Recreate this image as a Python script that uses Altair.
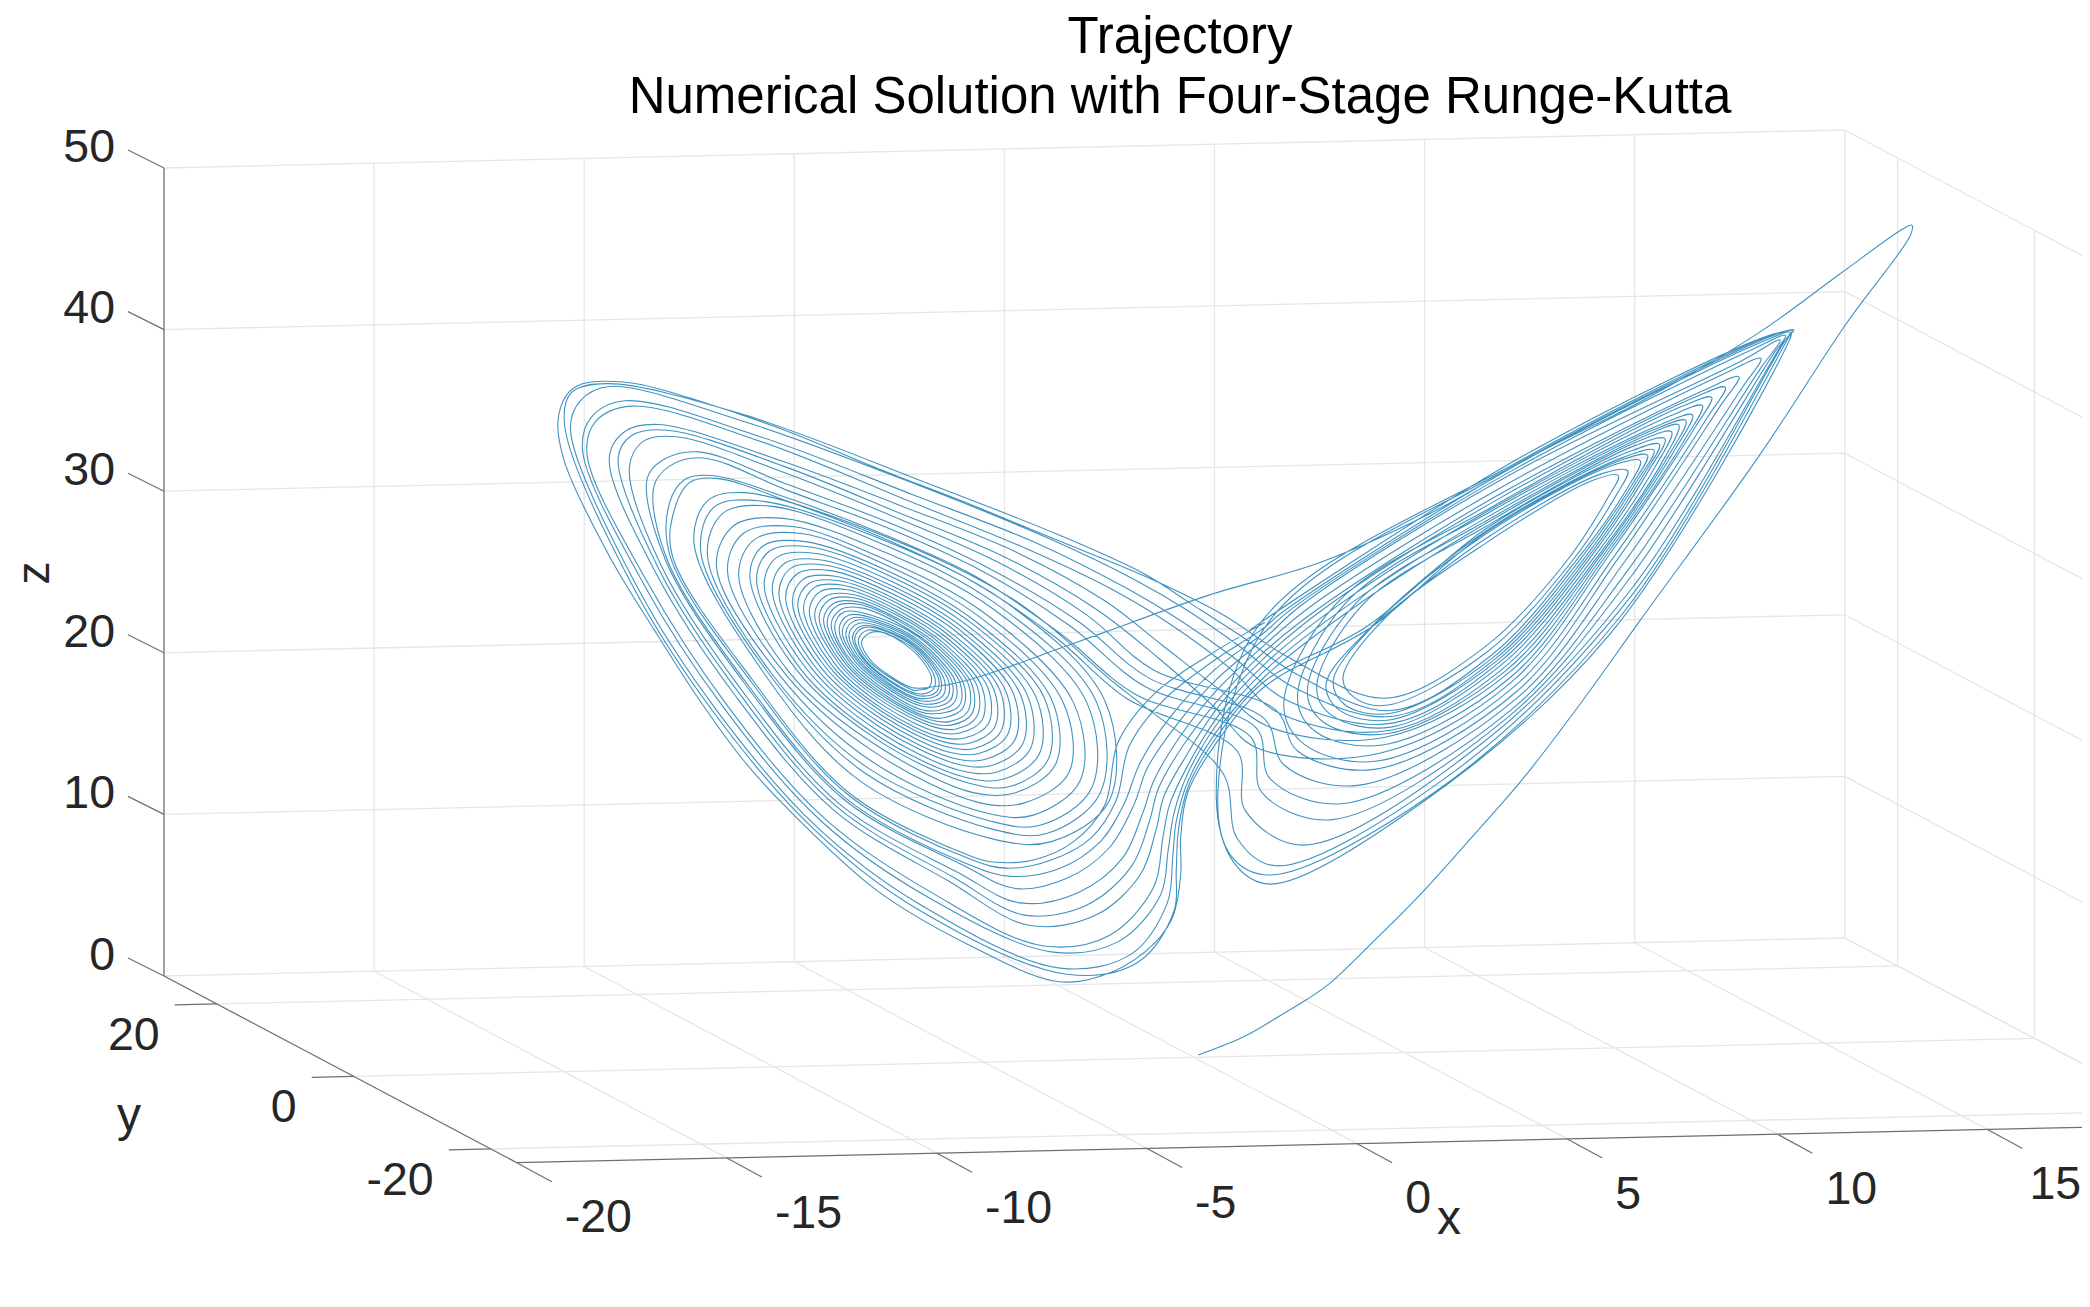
import altair as alt
import pandas as pd

# ---------- text ----------
TITLE_LINES = ["Trajectory", "Numerical Solution with Four-Stage Runge-Kutta"]
X_TICKS = [-20, -15, -10, -5, 0, 5, 10, 15, 20]
Y_TICKS = [-20, 0, 20]
Z_TICKS = [0, 10, 20, 30, 40, 50]
X_LABELLED = [-20, -15, -10, -5, 0, 5, 10, 15]
Y_MIN, Y_MAX = -23.8, 27.7

# ---------- trajectory ----------
TRACE_IN = [(179,1862),(261,1823),(325,1779),(376,1742),(420,1705),(489,1626),(578,1520),(680,1385),(770,1262),(880,1090),(985,915),
            (1200,560),(1360,270),(1478,75),(1480,55),(1465,62),(1350,160),(1200,290),(1000,430),(800,550),(590,690),(400,790),(200,860),(0,945)]
TRACE_IN_LEFT = [(1200,710),(1100,750),(1000,785),(930,800)]

LEFT_RINGS = [
 [(880,803),(830,775),(785,735),(765,690),(785,668),(815,668),(860,695),(900,735),(922,780),(915,803),(895,808)],
 [(884,810),(780,736),(758,685),(778,662),(859,690),(904,732),(930,782),(924,809)],
 [(887,817),(775,737),(750,680),(771,655),(858,684),(907,729),(938,783),(932,814)],
 [(890,822),(772,737),(745,677),(766,651),(858,681),(910,727),(943,784),(938,818)],
 [(893,829),(767,738),(737,672),(759,645),(857,676),(913,725),(951,786),(946,824)],
 [(897,835),(762,739),(730,668),(751,638),(856,670),(917,722),(960,787),(955,829)],
 [(900,842),(757,739),(722,663),(744,632),(855,665),(920,719),(968,789),(963,835)],
 [(904,849),(752,740),(715,658),(737,625),(854,660),(924,716),(976,790),(972,840)],
 [(909,859),(745,741),(705,652),(727,617),(853,653),(929,712),(986,792),(983,848)],
 [(912,866),(822,817),(740,742),(697,647),(720,610),(768,608),(852,648),(932,709),(994,794),(992,853),(953,876)],
 [(917,875),(821,823),(734,743),(688,640),(711,602),(761,599),(851,641),(937,706),(1005,796),(1003,861),(962,886)],
 [(921,882),(820,828),(729,744),(680,636),(703,596),(755,592),(850,636),(941,703),(1013,797),(1012,867),(968,894)],
 [(926,891),(819,834),(722,745),(670,629),(694,587),(749,583),(849,628),(946,699),(1024,799),(1023,874),(977,904)],
 [(930,900),(817,840),(716,746),(660,623),(684,579),(742,574),(847,621),(950,695),(1035,801),(1035,882),(985,914)],
 [(936,912),(816,848),(707,747),(648,615),(672,568),(733,563),(846,613),(956,690),(1048,803),(1049,891),(996,926)],
 [(942,924),(814,856),(699,748),(635,607),(660,557),(724,552),(844,604),(962,686),(1061,806),(1063,900),(1007,939)],
 [(948,935),(813,863),(691,749),(622,599),(648,547),(715,541),(843,595),(968,681),(1075,809),(1077,910),(1018,952)],
 [(954,947),(811,871),(683,751),(610,591),(636,536),(706,530),(841,586),(974,676),(1088,811),(1092,919),(1028,964)],
 [(962,961),(810,880),(673,752),(595,581),(622,523),(696,516),(840,576),(982,670),(1104,814),(1109,930),(1041,979)],
 [(969,975),(808,890),(663,754),(580,572),(607,510),(685,503),(838,565),(989,665),(1120,817),(1126,941),(1054,994)],
 [(976,989),(806,899),(653,755),(565,562),(593,498),(675,490),(836,555),(996,659),(1136,820),(1143,953),(1067,1010)],
 [(984,1005),(804,910),(642,757),(547,551),(576,483),(663,474),(834,543),(1004,652),(1155,824),(1163,966),(1082,1027)],
 [(993,1021),(802,921),(630,759),(530,540),(559,468),(651,458),(832,531),(1013,646),(1174,827),(1183,979),(1097,1045)],
 [(1000,1035),(800,930),(620,760),(515,530),(545,455),(640,445),(830,520),(1020,640),(1190,830),(1200,990),(1110,1060)],
 [(1015,1060),(800,945),(607,770),(490,530),(525,440),(630,425),(825,505),(1030,630),(1215,835),(1230,1010),(1130,1085)],
 [(1030,1085),(800,965),(595,770),(465,520),(500,425),(610,408),(820,490),(1040,620),(1240,840),(1255,1030),(1150,1115)],
 [(1045,1110),(790,985),(580,770),(440,505),(480,405),(590,388),(815,470),(1060,610),(1270,840),(1280,1050),(1165,1140)],
 [(1055,1130),(780,1000),(565,770),(420,480),(455,375),(560,358),(810,450),(1070,600),(1290,835),(1300,1060),(1180,1160)],
 [(1060,1150),(770,1010),(555,765),(405,470),(435,360),(535,345),(800,435),(1090,595),(1310,835),(1320,1080),(1190,1180)],
 [(1065,1175),(760,1030),(545,765),(390,450),(420,345),(500,325),(790,420),(1110,590),(1330,790),(1400,850)],
]

L345 = [(1668,643),(1545,722),(1422,817),(1340,936),(1310,1090),(1240,1180),(1150,1225),(1060,1230),(1016,1218),(741,1064),(521,784),(341,479),(345,370),(380,300),(440,290),(610,350),(810,435),(1010,540),(1200,680),(1360,830)]
L335 = [(1668,655),(1550,740),(1440,835),(1365,945),(1335,1080),(1280,1170),(1190,1225),(1090,1245),(1011,1224),(737,1067),(517,787),(337,483),(335,350),(370,292),(430,283),(610,342),(810,425),(1020,530),(1210,670),(1380,820)]
L300 = [(1668,667),(1555,760),(1460,870),(1390,985),(1352,1090),(1300,1180),(1210,1245),(1100,1265),(1001,1234),(730,1074),(510,795),(330,490),(300,310),(335,260),(410,240),(600,320),(820,410),(1040,520),(1230,650),(1400,800)]
L285 = [(1668,682),(1558,785),(1470,895),(1405,1000),(1375,1090),(1320,1195),(1225,1270),(1110,1295),(995,1239),(727,1078),(507,798),(327,493),(285,290),(320,245),(400,225),(600,305),(830,400),(1050,510),(1250,640),(1410,780)]
L245 = [(1668,698),(1560,810),(1480,920),(1420,1030),(1395,1110),(1350,1220),(1250,1305),(1120,1330),(980,1255),(716,1088),(496,808),(316,503),(245,265),(275,200),(350,188),(590,275),(840,385),(1070,495),(1270,625),(1420,760)]
L220 = [(1668,714),(1562,835),(1485,945),(1430,1050),(1410,1130),(1370,1240),(1270,1335),(1130,1360),(969,1266),(710,1095),(490,815),(310,510),(220,240),(250,185),(330,172),(590,260),(850,375),(1090,485),(1290,610),(1430,730),(1555,850),(1650,950)]
L200 = [(1668,729),(1564,850),(1492,970),(1442,1070),(1425,1150),(1390,1260),(1290,1360),(1140,1385),(959,1276),(702,1102),(482,822),(302,517),(200,240),(235,175),(310,158),(580,245),(860,360),(1110,470),(1310,590),(1440,700),(1570,810),(1680,900)]
L150 = [(1668,745),(1565,870),(1495,995),(1455,1090),(1440,1170),(1420,1290),(1320,1410),(1170,1435),(927,1308),(682,1123),(462,843),(282,538),(150,230),(170,150),(250,113),(540,200),(870,345),(1140,465),(1340,570),(1460,650),(1590,755),(1700,865)]
L140 = [(1668,761),(1566,885),(1497,1010),(1465,1110),(1452,1200),(1435,1310),(1340,1425),(1190,1450),(917,1318),(675,1130),(455,850),(275,545),(140,220),(160,140),(235,100),(530,185),(880,330),(1160,450),(1360,560),(1475,635),(1600,730),(1720,835)]
L113 = [(1668,776),(1567,900),(1497,1030),(1470,1130),(1462,1220),(1450,1330),(1370,1455),(1210,1490),(899,1336),(663,1142),(443,862),(263,557),(113,170),(135,100),(200,65),(500,150),(900,310),(1190,440),(1380,540),(1490,610),(1610,700),(1730,800)]
L100 = [(1668,787),(1568,912),(1497,1045),(1475,1150),(1470,1250),(1465,1350),(1385,1475),(1225,1505),(890,1345),(657,1148),(437,868),(257,563),(100,160),(115,80),(195,58),(490,130),(920,305),(1210,430),(1400,525),(1500,595),(1620,680),(1740,770)]
L085 = [(1668,800),(1569,924),(1496,1059),(1480,1170),(1480,1260),(1460,1370),(1400,1450),(1300,1510),(1200,1522),(1000,1430),(800,1300),(600,1100),(500,980),(400,830),(300,660),(200,480),(100,250),(85,150),(105,85),(135,60),(190,52),(270,60),(400,100),(600,175),(800,265),(1000,350),(1200,440),(1400,530),(1568,620),(1729,733)]

R01 = [(450,1030),(470,1070),(520,1085),(700,975),(845,795),(925,650),(945,600),(900,610),(700,750),(520,910)]
R02 = [(443,1040),(465,1085),(525,1100),(705,985),(855,795),(940,645),(962,590),(915,596),(700,740),(510,915)]
R03 = [(430,1045),(455,1095),(530,1112),(715,990),(865,790),(960,630),(985,568),(930,580),(700,730),(500,925)]
R03B = [(425,1048),(447,1100),(530,1118),(718,995),(872,788),(970,620),(998,556),(942,570),(702,725),(495,930)]
R04 = [(420,1050),(440,1105),(530,1125),(720,1000),(880,785),(980,610),(1010,545),(955,560),(705,720),(490,935)]
R04B = [(412,1055),(435,1110),(530,1132),(725,1002),(885,785),(990,600),(1020,532),(965,548),(705,715),(485,930)]
R05 = [(405,1060),(430,1115),(530,1140),(730,1005),(890,785),(1000,590),(1030,520),(975,535),(705,710),(480,880)]
R05B = [(395,1062),(422,1122),(530,1148),(732,1012),(898,782),(1015,575),(1042,505),(988,522),(707,702),(472,880)]
R06 = [(385,1065),(415,1130),(530,1155),(735,1020),(905,780),(1030,560),(1055,490),(1000,510),(710,695),(465,880)]
R06B = [(378,1070),(408,1138),(525,1162),(740,1025),(912,775),(1040,550),(1068,480),(1010,500),(710,688),(458,878)]
R07 = [(370,1075),(400,1145),(520,1170),(745,1030),(920,770),(1050,540),(1080,468),(1020,490),(710,680),(450,875)]
R07B = [(360,1082),(392,1157),(515,1187),(748,1040),(925,770),(1068,518),(1098,448),(1040,470),(715,672),(440,878)]
R08 = [(350,1090),(385,1170),(510,1205),(750,1050),(930,770),(1085,495),(1115,430),(1060,450),(720,665),(430,880)]
R08B = [(335,1100),(372,1185),(505,1222),(755,1060),(938,775),(1108,472),(1140,408),(1080,432),(725,652),(420,880)]
R09 = [(320,1110),(360,1200),(500,1240),(760,1070),(945,780),(1130,450),(1165,385),(1100,415),(730,640),(410,880)]
R10 = [(300,1130),(335,1230),(470,1275),(760,1085),(955,790),(1170,410),(1205,345),(1135,380),(740,620),(390,880)]
R11 = [(285,1150),(310,1260),(440,1315),(750,1110),(960,810),(1205,365),(1240,305),(1170,350),(745,600),(370,880)]
R12 = [(275,1170),(295,1290),(420,1350),(740,1130),(965,825),(1225,340),(1250,295),(1190,325),(750,590),(350,890)]
R13 = [(250,1200),(265,1330),(370,1405),(700,1180),(970,845),(1240,320),(1258,288),(1205,310),(755,580),(330,900)]
R14 = [(225,1250),(250,1390),(320,1450),(640,1250),(970,860),(1250,305),(1265,283),(1225,296),(760,575),(310,915)]
R15 = [(215,1290),(240,1430),(310,1470),(610,1290),(950,905),(1255,300),(1262,285),(1230,292),(770,565),(290,925)]
R16 = [(212,1300),(245,1445),(310,1490),(590,1310),(930,945),(1255,310),(1260,290),(1235,290),(775,555),(270,940)]


def from_left_crop(points):
    return [(520 + a / 2.24, 360 + b / 2.45) for a, b in points]


def from_right_crop(points):
    return [(1100 + a / 1.823, 200 + b / 2.178) for a, b in points]


path = from_right_crop(TRACE_IN) + from_left_crop(TRACE_IN_LEFT)
for ring in LEFT_RINGS:
    path += from_left_crop(ring)
for rights, left in [([R14, R15, R16], L345), ([R13], L335), ([R12], L300), ([R11], L285), ([R10], L245), ([R09], L220),
                     ([R08[2:], R08B], L200), ([R07[2:], R07B], L150), ([R06[2:], R06B], L140), ([R05[2:], R05B], L113),
                     ([R04[2:], R04B], L100), ([R03[2:], R03B], L085), ([R01[2:], R02], None)]:
    for right in rights:
        path += from_right_crop(right)
    if left is not None:
        path += from_left_crop(left)
trace = pd.DataFrame({"px": [p[0] for p in path], "py": [p[1] for p in path], "i": range(len(path))})


# ---------- box projection ----------
def project(x, y, z):
    return (164 + 42.02 * (x + 20) + 6.85 * (Y_MAX - y),
            976 - 0.95 * (x + 20) + 3.625 * (Y_MAX - y) - 16.16 * z)


def seg(a, b):
    p, q = project(*a), project(*b)
    return {"x1": p[0], "y1": p[1], "x2": q[0], "y2": q[1]}


grid = []
for x in X_TICKS:
    grid.append(seg((x, Y_MAX, 0), (x, Y_MAX, 50)))
    grid.append(seg((x, Y_MAX, 0), (x, Y_MIN, 0)))
for z in Z_TICKS:
    grid.append(seg((-20, Y_MAX, z), (20, Y_MAX, z)))
    grid.append(seg((20, Y_MAX, z), (20, Y_MIN, z)))
for y in Y_TICKS:
    grid.append(seg((-20, y, 0), (20, y, 0)))
    grid.append(seg((20, y, 0), (20, y, 50)))

axes = [seg((-20, Y_MAX, 0), (-20, Y_MAX, 50)), seg((-20, Y_MAX, 0), (-20, Y_MIN, 0)), seg((-20, Y_MIN, 0), (20, Y_MIN, 0))]
for x in X_LABELLED + [20]:
    p = project(x, Y_MIN, 0)
    axes.append({"x1": p[0], "y1": p[1], "x2": p[0] + 35, "y2": p[1] + 19})
for y in Y_TICKS:
    p = project(-20, y, 0)
    axes.append({"x1": p[0], "y1": p[1], "x2": p[0] - 42, "y2": p[1] + 1})
for z in Z_TICKS:
    p = project(-20, Y_MAX, z)
    axes.append({"x1": p[0], "y1": p[1], "x2": p[0] - 36, "y2": p[1] - 18})

right_labels, mid_labels = [], []
for x in X_LABELLED:
    p = project(x, Y_MIN, 0)
    # the last label sits against the picture's right edge
    mid_labels.append({"tx": p[0] + (42 if x == 15 else 48), "ty": p[1] + 55.7, "t": str(x)})
for y in Y_TICKS:
    p = project(-20, y, 0)
    right_labels.append({"tx": p[0] - 57, "ty": p[1] + 31.7, "t": str(y)})
for z in Z_TICKS:
    p = project(-20, Y_MAX, z)
    right_labels.append({"tx": p[0] - 49, "ty": p[1] - 20.3, "t": str(z)})

sx = alt.Scale(domain=[8, 2082], nice=False, zero=False)
sy = alt.Scale(domain=[1299, 8], nice=False, zero=False)
X = lambda f: alt.X(f, type="quantitative", scale=sx, axis=None)
Y = lambda f: alt.Y(f, type="quantitative", scale=sy, axis=None)
FONT = "Liberation Sans"


def rules(rows, color, width):
    return alt.Chart(pd.DataFrame(rows)).mark_rule(color=color, strokeWidth=width, clip=True).encode(
        x=X("x1"), y=Y("y1"), x2="x2:Q", y2="y2:Q")


def texts(rows, align, size, color="#262626", **kw):
    return alt.Chart(pd.DataFrame(rows)).mark_text(font=FONT, fontSize=size, color=color, align=align,
                                                   baseline="middle", **kw).encode(
        x=X("tx"), y=Y("ty"), text="t:N")


line = alt.Chart(trace).mark_line(color="#1f7fb5", strokeWidth=1.1, opacity=0.85, interpolate="catmull-rom", clip=True).encode(
    x=X("px"), y=Y("py"), order=alt.Order("i:Q"))

title = texts([{"tx": 1180, "ty": 38, "t": TITLE_LINES[0]}, {"tx": 1180, "ty": 98, "t": TITLE_LINES[1]}], "center", 51, "#000000")
xl = texts([{"tx": 1449, "ty": 1220, "t": "x"}], "center", 48)
yl = texts([{"tx": 129, "ty": 1117, "t": "y"}], "center", 48)
zl = texts([{"tx": 35, "ty": 573, "t": "z"}], "center", 46, angle=270)

chart = alt.layer(
    rules(grid, "#e6e6e6", 1.3),
    rules(axes, "#6e6e6e", 1.2),
    line,
    texts(right_labels, "right", 46.5),
    texts(mid_labels, "left", 46.5),
    title, xl, yl, zl,
).properties(width=2074, height=1291, padding=0, autosize=alt.AutoSizeParams(type="none"),
             background="white").configure_view(stroke=None)

chart.save("out.html", embed_options={"renderer": "svg", "actions": False})
